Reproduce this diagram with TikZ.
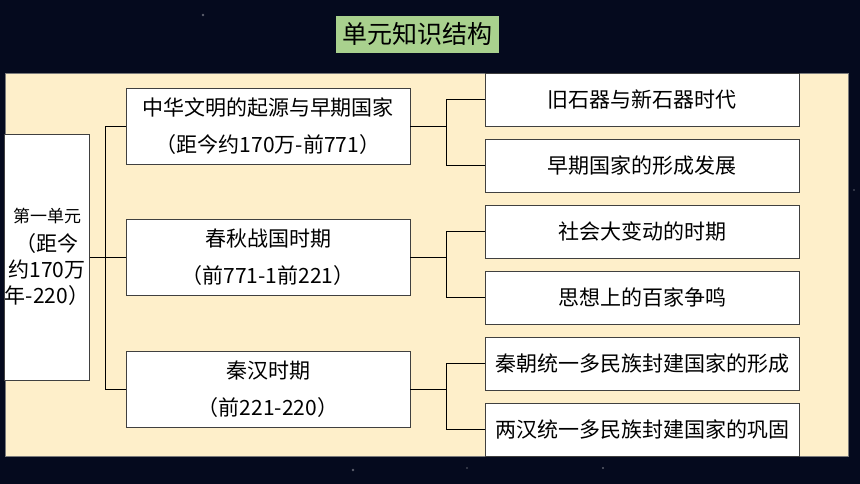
\documentclass[tikz,border=0pt]{standalone}
\usepackage{fontspec}
\setmainfont{Noto Sans CJK SC}
\definecolor{bgnavy}{HTML}{050A1E}
\definecolor{panel}{HTML}{FEEFCA}
\definecolor{panelline}{HTML}{7A7A7A}
\definecolor{titlegreen}{HTML}{A9D18E}
\definecolor{boxline}{HTML}{404040}
\tikzset{
  box/.style={draw=boxline, line width=0.9pt, fill=white, rectangle, inner sep=0pt, align=center},
  midbox/.style={box, minimum width=284pt, minimum height=76pt, font=\fontsize{21}{37}\selectfont},
  rbox/.style={box, minimum width=314pt, minimum height=53pt, font=\fontsize{21}{25}\selectfont},
  link/.style={draw=black, line width=0.9pt},
  star/.style={fill=white, fill opacity=0.35, draw=none}
}
\begin{document}
\begin{tikzpicture}[x=1pt, y=-1pt]
\useasboundingbox (0,0) rectangle (860,484);
\fill[bgnavy] (0,0) rectangle (860,484);
% faint stars
\fill[star] (203,15) circle (1.3);
\fill[star] (353,470) circle (1.3);
\fill[star] (603,468) circle (1.2);
\fill[star] (467,468) circle (0.9);
\fill[star] (854,190) circle (0.9);
% title
\node[rectangle, fill=titlegreen, minimum width=163pt, minimum height=37pt, inner sep=0pt,
      font=\fontsize{25}{28}\selectfont] (title) at (417.5,34.5) {单元知识结构};
% panel
\filldraw[fill=panel, draw=panelline, line width=0.8pt] (5,73) rectangle (848,456);
% left box
\node[box, minimum width=78pt, minimum height=246pt, font=\fontsize{21}{26}\selectfont] (L) at (47,257)
  {{\fontsize{17}{20}\selectfont 第一单元}\\[3pt]（距今\\约170万\\年-220）};
% middle boxes
\node[midbox] (M1) at (268,126) {中华文明的起源与早期国家\\（距今约170万-前771）};
\node[midbox] (M2) at (268,257) {春秋战国时期\\（前771-1前221）};
\node[midbox] (M3) at (268,389) {秦汉时期\\（前221-220）};
% right boxes
\node[rbox] (RA) at (642,99.5) {旧石器与新石器时代};
\node[rbox] (RB) at (642,165.5) {早期国家的形成发展};
\node[rbox] (RC) at (642,231.5) {社会大变动的时期};
\node[rbox] (RD) at (642,297.5) {思想上的百家争鸣};
\node[rbox] (RE) at (642,363.5) {秦朝统一多民族封建国家的形成};
\node[rbox] (RF) at (642,429.5) {两汉统一多民族封建国家的巩固};
% connectors left
\draw[link] (L.east) -- ++(20,0);
\draw[link] (M1.west) -- ++(-20,0) |- (M3.west);
\draw[link] (M2.west) -- ++(-20,0);
% connectors right
\draw[link] (M1.east) -- ++(37,0);
\draw[link] (RA.west) -- ++(-38,0) |- (RB.west);
\draw[link] (M2.east) -- ++(37,0);
\draw[link] (RC.west) -- ++(-38,0) |- (RD.west);
\draw[link] (M3.east) -- ++(37,0);
\draw[link] (RE.west) -- ++(-38,0) |- (RF.west);
\end{tikzpicture}
\end{document}
